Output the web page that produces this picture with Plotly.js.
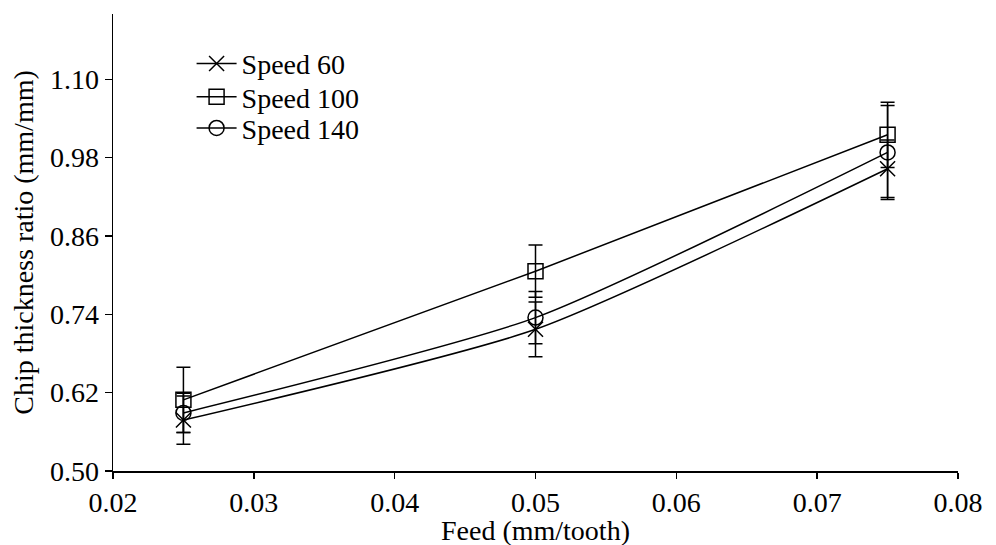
<!DOCTYPE html>
<html>
<head>
<meta charset="utf-8">
<script src="https://cdn.plot.ly/plotly-3.0.1.min.js"></script>
<style>html,body{margin:0;padding:0;background:#fff;}#chart{width:996px;height:545px;}</style>
</head>
<body>
<div id="chart"></div>
<script>
const feed = [0.025, 0.05, 0.075];
const speed60 = [0.578, 0.717, 0.963];
const speed60Err = [0.037, 0.042, 0.044];
const speed100 = [0.609, 0.806, 1.015];
const speed100Err = [0.050, 0.040, 0.050];
const speed140 = [0.589, 0.735, 0.988];
const speed140Err = [0.030, 0.040, 0.072];
const seriesNames = ['Speed 60', 'Speed 100', 'Speed 140'];
const yTicks = [0.50, 0.62, 0.74, 0.86, 0.98, 1.10];
const xTicks = [0.02, 0.03, 0.04, 0.05, 0.06, 0.07, 0.08];
const xTitle = 'Feed (mm/tooth)';
const yTitle = 'Chip thickness ratio (mm/mm)';

function trace(name, y, err, symbol, leg) {
  return {
    x: feed, y: y, name: name, type: 'scatter', mode: 'lines+markers', legend: leg,
    line: {color: '#000', width: 1.5, shape: 'spline', smoothing: 0.6},
    marker: {symbol: symbol, size: 15, color: '#000', line: {color: '#000', width: 1.5}},
    error_y: {type: 'data', array: err, visible: true, color: '#000', thickness: 1.5, width: 7}
  };
}
const data = [
  trace(seriesNames[0], speed60, speed60Err, 'x-thin-open', 'legend'),
  trace(seriesNames[1], speed100, speed100Err, 'square-open', 'legend2'),
  trace(seriesNames[2], speed140, speed140Err, 'circle-open', 'legend3')
];
const fam = 'Liberation Serif';
const fnt = {family: fam, size: 28, color: '#000'};
function leg(yc) {
  return {x: 0.093, y: yc, xanchor: 'left', yanchor: 'middle', bgcolor: 'rgba(0,0,0,0)',
          font: fnt, itemwidth: 40};
}
const layout = {
  width: 996, height: 545,
  margin: {l: 113, r: 38, t: 14, b: 74},
  paper_bgcolor: '#fff', plot_bgcolor: '#fff',
  font: fnt,
  showlegend: true,
  legend: leg(0.891),
  legend2: leg(0.818),
  legend3: leg(0.750),
  xaxis: {
    range: [0.02, 0.08], tickvals: xTicks, tickformat: '.2f',
    showgrid: false, zeroline: false, showline: true, linecolor: '#000', linewidth: 1.5,
    ticks: 'outside', ticklen: 6, tickwidth: 1.5, tickcolor: '#000',
    tickfont: fnt
  },
  yaxis: {
    range: [0.5, 1.2], tickvals: yTicks, tickformat: '.2f',
    showgrid: false, zeroline: false, showline: true, linecolor: '#000', linewidth: 1.5,
    ticks: 'outside', ticklen: 7, tickwidth: 1.5, tickcolor: '#000',
    tickfont: fnt,
    title: {text: yTitle, font: fnt, standoff: 8}
  },
  annotations: [{
    text: xTitle, xref: 'paper', yref: 'paper', x: 0.5, y: 0,
    xanchor: 'center', yanchor: 'middle', yshift: -59, showarrow: false, font: fnt,
    borderpad: 0
  }]
};
Plotly.newPlot('chart', data, layout, {displayModeBar: false, staticPlot: true});
</script>
</body>
</html>
